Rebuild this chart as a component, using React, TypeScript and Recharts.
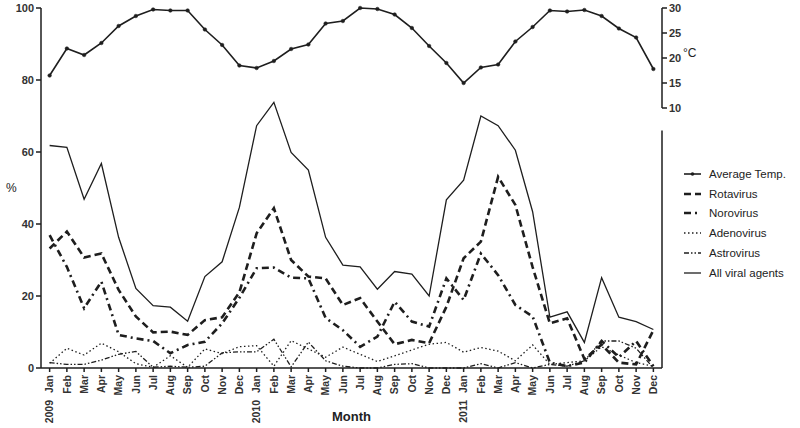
import { LineChart, Line, XAxis, YAxis, ReferenceLine } from 'recharts'

const months = ['Jan', 'Feb', 'Mar', 'Apr', 'May', 'Jun', 'Jul', 'Aug', 'Sep', 'Oct', 'Nov', 'Dec']
const years = ['2009', '2010', '2011']

// monthly mean temperature, °C
const avgTemp = [
  16.5, 21.9, 20.6, 23.0, 26.4, 28.4, 29.7, 29.5, 29.5, 25.7, 22.6, 18.5,
  18.0, 19.4, 21.8, 22.7, 26.9, 27.4, 30.0, 29.8, 28.7, 26.0, 22.4, 19.0,
  15.0, 18.1, 18.7, 23.3, 26.2, 29.5, 29.3, 29.6, 28.4, 25.9, 24.1, 17.8,
]
// detection rates, %
const rotavirus = [
  33.2, 37.9, 30.7, 31.8, 21.7, 14.3, 9.9, 10.1, 9.2, 13.3, 14.1, 21.0,
  37.4, 44.4, 30.0, 25.4, 24.9, 17.5, 19.4, 12.9, 6.6, 7.8, 6.9, 17.0,
  30.5, 35.1, 53.1, 45.3, 28.0, 12.4, 13.8, 2.5, 6.5, 1.5, 1.0, 10.5,
]
const norovirus = [
  36.9, 28.1, 16.6, 24.0, 9.2, 8.2, 7.5, 4.1, 6.4, 7.3, 12.4, 19.5,
  27.7, 27.9, 25.1, 24.9, 13.9, 10.5, 5.9, 8.7, 18.4, 12.9, 11.5, 24.9,
  18.9, 31.8, 25.8, 17.5, 14.3, 1.5, 0.5, 1.5, 7.5, 3.0, 7.5, 0.5,
]
const adenovirus = [
  1.3, 5.5, 3.6, 6.9, 4.5, 1.2, 0.2, 3.4, 0.2, 5.3, 4.0, 5.9,
  6.2, 0.5, 7.6, 5.3, 3.0, 5.8, 3.8, 1.8, 3.4, 5.0, 6.6, 7.1,
  4.4, 5.7, 4.7, 2.0, 6.4, 1.0, 1.5, 2.0, 5.9, 3.6, 1.5, 0.5,
]
const astrovirus = [
  1.5, 1.0, 1.0, 2.2, 3.8, 4.6, 0.2, 0.5, 0.2, 0.5, 4.2, 4.5,
  4.5, 8.0, 0.3, 7.2, 2.0, 0.5, 0.0, 0.0, 1.0, 1.2, 0.0, 0.0,
  0.0, 1.2, 0.0, 1.5, 0.0, 1.0, 0.5, 2.0, 7.5, 7.5, 5.5, 0.0,
]
const allViral = [
  61.8, 61.3, 46.9, 56.8, 36.3, 22.1, 17.3, 16.9, 13.0, 25.4, 29.5, 44.6,
  67.3, 73.8, 59.9, 55.0, 36.3, 28.6, 28.1, 21.9, 26.8, 26.1, 20.0, 46.7,
  52.2, 70.0, 67.3, 60.5, 43.4, 14.1, 15.6, 7.1, 25.1, 14.1, 12.9, 10.7,
]

const pctTicks = [0, 20, 40, 60, 80, 100]
const tempTicks = [10, 15, 20, 25, 30]

const data = avgTemp.map((t, i) => ({
  idx: i,
  temp: t,
  rota: rotavirus[i],
  noro: norovirus[i],
  adeno: adenovirus[i],
  astro: astrovirus[i],
  all: allViral[i],
}))
const monthIdx = data.map(d => d.idx)

const INK = '#1e1e1e'
const FONT = 'Arial, "Liberation Sans", sans-serif'

const series = [
  { key: 'temp', name: 'Average Temp.', width: 1.6, dash: undefined as string | undefined, dot: true },
  { key: 'rota', name: 'Rotavirus', width: 2.6, dash: '7 4', dot: false },
  { key: 'noro', name: 'Norovirus', width: 2.6, dash: '7 4 2 4', dot: false },
  { key: 'adeno', name: 'Adenovirus', width: 1.3, dash: '1.5 2.5', dot: false },
  { key: 'astro', name: 'Astrovirus', width: 1.3, dash: '5 2 1.5 2 1.5 2', dot: false },
  { key: 'all', name: 'All viral agents', width: 1.3, dash: undefined, dot: false },
]

function MonthTick(props: any) {
  const { x, y, payload } = props
  const i = payload.value as number
  return (
    <g transform={`translate(${x},${y})`}>
      <text transform="rotate(-90)" x={-1} y={0} dy="0.35em" textAnchor="end"
        fontSize={10.5} fontWeight={700} fill="#333" fontFamily={FONT}>
        {months[i % 12]}
      </text>
      {i % 12 === 0 && (
        <text transform="rotate(-90)" x={-26} y={0} dy="0.35em" textAnchor="end"
          fontSize={10.5} fontWeight={700} fill="#333" fontFamily={FONT}>
          {years[Math.floor(i / 12)]}
        </text>
      )}
    </g>
  )
}

function LegendBox() {
  return (
    <div style={{ position: 'absolute', left: 683, top: 164, fontFamily: FONT, fontSize: 11.5, color: '#222' }}>
      {series.map(s => (
        <div key={s.key} style={{ display: 'flex', alignItems: 'center', height: 19.8 }}>
          <svg width={22} height={10} style={{ marginRight: 4 }}>
            <line x1={1} y1={5} x2={18} y2={5} stroke={INK} strokeWidth={s.width} strokeDasharray={s.dash} />
            {s.dot && <circle cx={9.5} cy={5} r={1.8} fill={INK} />}
          </svg>
          <span>{s.name}</span>
        </div>
      ))}
    </div>
  )
}

export default function App() {
  const tickStyle = { fontSize: 11, fontWeight: 700, fill: '#333', fontFamily: FONT }
  return (
    <div style={{ position: 'relative', width: 800, height: 428 }}>
      <style>{'body{margin:0}'}</style>
      <LineChart width={800} height={428} data={data} margin={{ top: 8, right: 0, bottom: 0, left: 0 }}>
        <XAxis
          dataKey="idx"
          type="number"
          domain={[-0.5, 35.5]}
          ticks={monthIdx}
          interval={0}
          height={60}
          tick={<MonthTick />}
          tickSize={4}
          stroke={INK}
          strokeWidth={1.5}
          label={{ value: 'Month', position: 'insideBottom', offset: 7, fontSize: 13, fontWeight: 700, fill: '#222', fontFamily: FONT }}
        />
        <YAxis
          yAxisId="pct"
          domain={[0, 100]}
          ticks={pctTicks}
          width={41}
          tick={tickStyle}
          tickSize={5}
          stroke={INK}
          strokeWidth={1.5}
          label={{ value: '%', position: 'insideLeft', angle: 0, offset: 6, fontSize: 12, fill: '#222', fontFamily: FONT }}
        />
        <YAxis
          yAxisId="temp"
          orientation="right"
          domain={[-42, 30]}
          ticks={tempTicks}
          width={138}
          tick={tickStyle}
          tickSize={5}
          axisLine={false}
          stroke={INK}
          strokeWidth={1.5}
        />
        <ReferenceLine yAxisId="temp" segment={[{ x: 35.5, y: 10 }, { x: 35.5, y: 30 }]} stroke={INK} strokeWidth={1.5} ifOverflow="visible" />
        <ReferenceLine yAxisId="pct" segment={[{ x: 35.5, y: 0 }, { x: 35.5, y: 66 }]} stroke={INK} strokeWidth={1.5} ifOverflow="visible" />
        {series.map(s => (
          <Line
            key={s.key}
            yAxisId={s.key === 'temp' ? 'temp' : 'pct'}
            dataKey={s.key}
            name={s.name}
            type="linear"
            stroke={INK}
            strokeWidth={s.width}
            strokeDasharray={s.dash}
            dot={s.dot ? { r: 1.8, fill: INK, stroke: INK, strokeWidth: 0.5 } : false}
            isAnimationActive={false}
          />
        ))}
      </LineChart>
      <div style={{ position: 'absolute', left: 683, top: 46, fontFamily: FONT, fontSize: 12, color: '#222' }}>°C</div>
      <LegendBox />
    </div>
  )
}
